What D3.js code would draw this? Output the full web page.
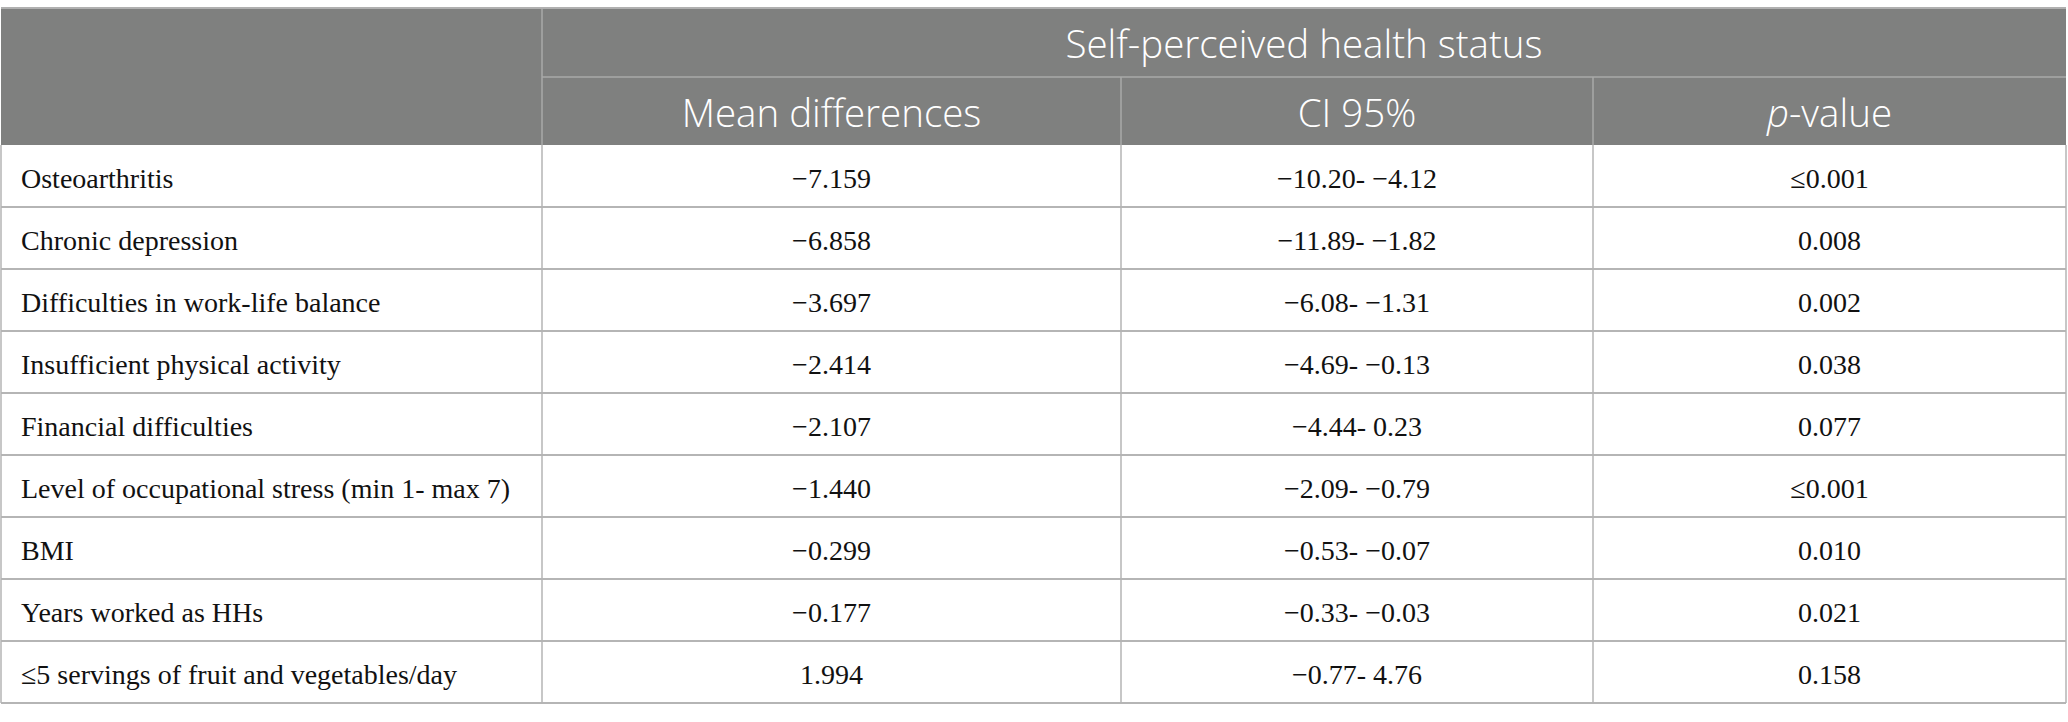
<!DOCTYPE html>
<html><head><meta charset="utf-8">
<script src="https://cdn.jsdelivr.net/npm/d3@7"></script>
<style>body{margin:0;background:#fff}svg{display:block}</style>
</head><body>
<script>
const groupTitle = "Self-perceived health status";
const columnHeaders = ["Mean differences", "CI 95%", "p-value"];
const variables = [
  "Osteoarthritis",
  "Chronic depression",
  "Difficulties in work-life balance",
  "Insufficient physical activity",
  "Financial difficulties",
  "Level of occupational stress (min 1- max 7)",
  "BMI",
  "Years worked as HHs",
  "\u22645 servings of fruit and vegetables/day"
];
const meanDiff = ["\u22127.159","\u22126.858","\u22123.697","\u22122.414","\u22122.107","\u22121.440","\u22120.299","\u22120.177","1.994"];
const ci95 = ["\u221210.20- \u22124.12","\u221211.89- \u22121.82","\u22126.08- \u22121.31","\u22124.69- \u22120.13","\u22124.44- 0.23","\u22122.09- \u22120.79","\u22120.53- \u22120.07","\u22120.33- \u22120.03","\u22120.77- 4.76"];
const pValues = ["\u22640.001","0.008","0.002","0.038","0.077","\u22640.001","0.010","0.021","0.158"];

(function(){
const W = 2068, H = 722;
const xL = 1, xR = 2066, yTop = 8, yMid = 77, yHead = 145, yBot = 703;
const colEdges = [xL, 542, 1121, 1593, xR];
const headerBg = "#7f807f", gridColor = "#b5b5b5";

const svg = d3.select("body").append("svg").attr("width", W).attr("height", H);
const y = d3.scaleBand().domain(d3.range(variables.length)).range([yHead, yBot]);

svg.append("rect").attr("x", xL).attr("y", yTop).attr("width", xR-xL).attr("height", yHead-yTop).attr("fill", headerBg);
const hl = "#a9aaa9";
svg.append("line").attr("x1", colEdges[1]).attr("x2", xR).attr("y1", yMid).attr("y2", yMid).attr("stroke", hl).attr("stroke-width", 1.5);
svg.append("line").attr("x1", colEdges[1]).attr("x2", colEdges[1]).attr("y1", yTop).attr("y2", yHead).attr("stroke", hl).attr("stroke-width", 1.5);
[2,3].forEach(i => svg.append("line").attr("x1", colEdges[i]).attr("x2", colEdges[i]).attr("y1", yMid).attr("y2", yHead).attr("stroke", hl).attr("stroke-width", 1.5));
svg.append("line").attr("x1", xL).attr("x2", xR).attr("y1", yTop).attr("y2", yTop).attr("stroke", "#b0b0b0").attr("stroke-width", 2);

const hfont = "'Open Sans', 'Noto Sans', sans-serif";
const hsize = 38.5;
svg.append("text").attr("x", (colEdges[1]+xR)/2).attr("y", (yTop+yMid)/2)
  .attr("text-anchor", "middle").attr("dominant-baseline", "central")
  .attr("fill", "#fff").attr("font-family", hfont).attr("font-weight", 300).attr("font-size", hsize).text(groupTitle);
columnHeaders.forEach((h, i) => {
  const t = svg.append("text").attr("x", (colEdges[i+1]+colEdges[i+2])/2).attr("y", (yMid+yHead)/2 + 0.5)
    .attr("text-anchor", "middle").attr("dominant-baseline", "central")
    .attr("fill", "#fff").attr("font-family", hfont).attr("font-weight", 300).attr("font-size", hsize);
  if (h.startsWith("p-")) {
    t.append("tspan").attr("font-style", "italic").text("p");
    t.append("tspan").text(h.slice(1));
  } else t.text(h);
});

const rows = svg.append("g");
variables.forEach((v, i) => {
  rows.append("line").attr("x1", xL).attr("x2", xR).attr("y1", y(i)+y.bandwidth()).attr("y2", y(i)+y.bandwidth())
    .attr("stroke", gridColor).attr("stroke-width", 2);
});
colEdges.forEach(x => rows.append("line").attr("x1", x).attr("x2", x).attr("y1", yHead).attr("y2", yBot)
  .attr("stroke", gridColor).attr("stroke-width", 1.5));

const bfont = "'Liberation Serif', 'Times New Roman', serif";
const cellText = (x, i, s, anchor) => rows.append("text").attr("x", x).attr("y", y(i) + y.bandwidth()/2 + 2)
  .attr("text-anchor", anchor).attr("dominant-baseline", "central")
  .attr("fill", "#111").attr("font-family", bfont).attr("font-size", 28).text(s);

variables.forEach((v, i) => {
  cellText(xL + 20, i, v, "start");
  cellText((colEdges[1]+colEdges[2])/2, i, meanDiff[i], "middle");
  cellText((colEdges[2]+colEdges[3])/2, i, ci95[i], "middle");
  cellText((colEdges[3]+colEdges[4])/2, i, pValues[i], "middle");
});
})();
</script>
</body></html>
